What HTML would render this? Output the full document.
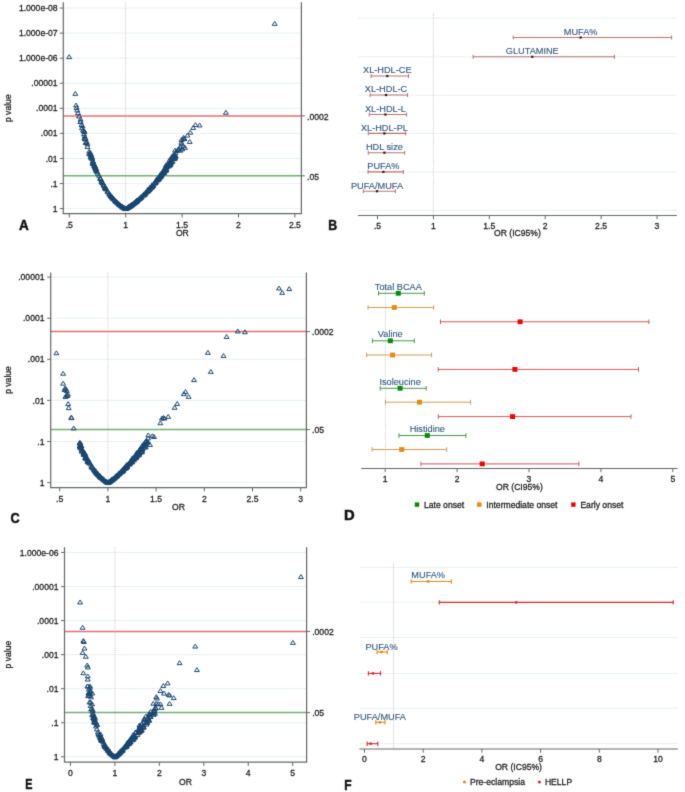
<!DOCTYPE html>
<html><head><meta charset="utf-8"><style>
html,body{margin:0;padding:0;background:#fff;width:685px;height:792px;overflow:hidden}
svg{display:block}
#w{width:685px;height:792px;will-change:transform}
</style></head><body>
<div id="w"><svg width="685" height="792" viewBox="0 0 685 792">
<defs><filter id="bl" filterUnits="userSpaceOnUse" x="0" y="0" width="685" height="792" color-interpolation-filters="sRGB"><feConvolveMatrix order="3" kernelMatrix="1 6 1 6 36 6 1 6 1" divisor="64" edgeMode="duplicate"/></filter></defs>
<g filter="url(#bl)"><rect width="685" height="792" fill="#fff"/>
<g font-family='"Liberation Sans", sans-serif'>
<line x1="63.30" y1="208.60" x2="301.40" y2="208.60" stroke="#e8eff0" stroke-width="1" />
<line x1="63.30" y1="183.53" x2="301.40" y2="183.53" stroke="#e8eff0" stroke-width="1" />
<line x1="63.30" y1="158.46" x2="301.40" y2="158.46" stroke="#e8eff0" stroke-width="1" />
<line x1="63.30" y1="133.39" x2="301.40" y2="133.39" stroke="#e8eff0" stroke-width="1" />
<line x1="63.30" y1="108.32" x2="301.40" y2="108.32" stroke="#e8eff0" stroke-width="1" />
<line x1="63.30" y1="83.25" x2="301.40" y2="83.25" stroke="#e8eff0" stroke-width="1" />
<line x1="63.30" y1="58.18" x2="301.40" y2="58.18" stroke="#e8eff0" stroke-width="1" />
<line x1="63.30" y1="33.11" x2="301.40" y2="33.11" stroke="#e8eff0" stroke-width="1" />
<line x1="63.30" y1="8.04" x2="301.40" y2="8.04" stroke="#e8eff0" stroke-width="1" />
<line x1="125.70" y1="2.20" x2="125.70" y2="213.70" stroke="#c6b6bc" stroke-width="0.9" stroke-dasharray="0.9,1.2"/>
<line x1="63.30" y1="115.90" x2="301.40" y2="115.90" stroke="#e07070" stroke-width="1.5" />
<line x1="63.30" y1="175.80" x2="301.40" y2="175.80" stroke="#72b072" stroke-width="1.5" />
<line x1="63.30" y1="2.20" x2="63.30" y2="213.70" stroke="#666666" stroke-width="1.2" />
<line x1="301.40" y1="2.20" x2="301.40" y2="213.70" stroke="#666666" stroke-width="1.2" />
<line x1="62.70" y1="213.70" x2="302.00" y2="213.70" stroke="#666666" stroke-width="1.2" />
<line x1="59.80" y1="208.60" x2="63.30" y2="208.60" stroke="#666666" stroke-width="1" />
<text x="57.60" y="211.70" font-size="8.6" text-anchor="end" fill="#1a1a1a" stroke="#1a1a1a" stroke-width="0.26" font-weight="normal" >1</text>
<line x1="59.80" y1="183.53" x2="63.30" y2="183.53" stroke="#666666" stroke-width="1" />
<text x="57.60" y="186.63" font-size="8.6" text-anchor="end" fill="#1a1a1a" stroke="#1a1a1a" stroke-width="0.26" font-weight="normal" >.1</text>
<line x1="59.80" y1="158.46" x2="63.30" y2="158.46" stroke="#666666" stroke-width="1" />
<text x="57.60" y="161.56" font-size="8.6" text-anchor="end" fill="#1a1a1a" stroke="#1a1a1a" stroke-width="0.26" font-weight="normal" >.01</text>
<line x1="59.80" y1="133.39" x2="63.30" y2="133.39" stroke="#666666" stroke-width="1" />
<text x="57.60" y="136.49" font-size="8.6" text-anchor="end" fill="#1a1a1a" stroke="#1a1a1a" stroke-width="0.26" font-weight="normal" >.001</text>
<line x1="59.80" y1="108.32" x2="63.30" y2="108.32" stroke="#666666" stroke-width="1" />
<text x="57.60" y="111.42" font-size="8.6" text-anchor="end" fill="#1a1a1a" stroke="#1a1a1a" stroke-width="0.26" font-weight="normal" >.0001</text>
<line x1="59.80" y1="83.25" x2="63.30" y2="83.25" stroke="#666666" stroke-width="1" />
<text x="57.60" y="86.35" font-size="8.6" text-anchor="end" fill="#1a1a1a" stroke="#1a1a1a" stroke-width="0.26" font-weight="normal" >.00001</text>
<line x1="59.80" y1="58.18" x2="63.30" y2="58.18" stroke="#666666" stroke-width="1" />
<text x="57.60" y="61.28" font-size="8.6" text-anchor="end" fill="#1a1a1a" stroke="#1a1a1a" stroke-width="0.26" font-weight="normal" >1.000e-06</text>
<line x1="59.80" y1="33.11" x2="63.30" y2="33.11" stroke="#666666" stroke-width="1" />
<text x="57.60" y="36.21" font-size="8.6" text-anchor="end" fill="#1a1a1a" stroke="#1a1a1a" stroke-width="0.26" font-weight="normal" >1.000e-07</text>
<line x1="59.80" y1="8.04" x2="63.30" y2="8.04" stroke="#666666" stroke-width="1" />
<text x="57.60" y="11.14" font-size="8.6" text-anchor="end" fill="#1a1a1a" stroke="#1a1a1a" stroke-width="0.26" font-weight="normal" >1.000e-08</text>
<line x1="69.30" y1="213.70" x2="69.30" y2="217.50" stroke="#666666" stroke-width="1" />
<text x="69.30" y="227.70" font-size="8.6" text-anchor="middle" fill="#1a1a1a" stroke="#1a1a1a" stroke-width="0.26" font-weight="normal" >.5</text>
<line x1="125.70" y1="213.70" x2="125.70" y2="217.50" stroke="#666666" stroke-width="1" />
<text x="125.70" y="227.70" font-size="8.6" text-anchor="middle" fill="#1a1a1a" stroke="#1a1a1a" stroke-width="0.26" font-weight="normal" >1</text>
<line x1="182.10" y1="213.70" x2="182.10" y2="217.50" stroke="#666666" stroke-width="1" />
<text x="182.10" y="227.70" font-size="8.6" text-anchor="middle" fill="#1a1a1a" stroke="#1a1a1a" stroke-width="0.26" font-weight="normal" >1.5</text>
<line x1="238.50" y1="213.70" x2="238.50" y2="217.50" stroke="#666666" stroke-width="1" />
<text x="238.50" y="227.70" font-size="8.6" text-anchor="middle" fill="#1a1a1a" stroke="#1a1a1a" stroke-width="0.26" font-weight="normal" >2</text>
<line x1="294.90" y1="213.70" x2="294.90" y2="217.50" stroke="#666666" stroke-width="1" />
<text x="294.90" y="227.70" font-size="8.6" text-anchor="middle" fill="#1a1a1a" stroke="#1a1a1a" stroke-width="0.26" font-weight="normal" >2.5</text>
<line x1="301.40" y1="115.90" x2="304.90" y2="115.90" stroke="#666666" stroke-width="1" />
<line x1="301.40" y1="175.80" x2="304.90" y2="175.80" stroke="#666666" stroke-width="1" />
<text x="307.00" y="119.70" font-size="8.6" text-anchor="start" fill="#1a1a1a" stroke="#1a1a1a" stroke-width="0.26" font-weight="normal" >.0002</text>
<text x="307.00" y="179.50" font-size="8.6" text-anchor="start" fill="#1a1a1a" stroke="#1a1a1a" stroke-width="0.26" font-weight="normal" >.05</text>
<text x="182.35" y="236.20" font-size="8.6" text-anchor="middle" fill="#1a1a1a" stroke="#1a1a1a" stroke-width="0.26" font-weight="normal" >OR</text>
<text x="11.10" y="108.20" font-size="8.6" text-anchor="middle" fill="#1a1a1a" stroke="#1a1a1a" stroke-width="0.26" font-weight="normal" transform="rotate(-90 11.1 108.2)">p value</text>
<line x1="50.70" y1="482.60" x2="306.40" y2="482.60" stroke="#e8eff0" stroke-width="1" />
<line x1="50.70" y1="441.50" x2="306.40" y2="441.50" stroke="#e8eff0" stroke-width="1" />
<line x1="50.70" y1="400.40" x2="306.40" y2="400.40" stroke="#e8eff0" stroke-width="1" />
<line x1="50.70" y1="359.30" x2="306.40" y2="359.30" stroke="#e8eff0" stroke-width="1" />
<line x1="50.70" y1="318.20" x2="306.40" y2="318.20" stroke="#e8eff0" stroke-width="1" />
<line x1="50.70" y1="277.10" x2="306.40" y2="277.10" stroke="#e8eff0" stroke-width="1" />
<line x1="107.90" y1="272.60" x2="107.90" y2="487.60" stroke="#c6b6bc" stroke-width="0.9" stroke-dasharray="0.9,1.2"/>
<line x1="50.70" y1="331.60" x2="306.40" y2="331.60" stroke="#e07070" stroke-width="1.5" />
<line x1="50.70" y1="429.50" x2="306.40" y2="429.50" stroke="#72b072" stroke-width="1.5" />
<line x1="50.70" y1="272.60" x2="50.70" y2="487.60" stroke="#666666" stroke-width="1.2" />
<line x1="306.40" y1="272.60" x2="306.40" y2="487.60" stroke="#666666" stroke-width="1.2" />
<line x1="50.10" y1="487.60" x2="307.00" y2="487.60" stroke="#666666" stroke-width="1.2" />
<line x1="47.20" y1="482.60" x2="50.70" y2="482.60" stroke="#666666" stroke-width="1" />
<text x="44.50" y="485.70" font-size="8.6" text-anchor="end" fill="#1a1a1a" stroke="#1a1a1a" stroke-width="0.26" font-weight="normal" >1</text>
<line x1="47.20" y1="441.50" x2="50.70" y2="441.50" stroke="#666666" stroke-width="1" />
<text x="44.50" y="444.60" font-size="8.6" text-anchor="end" fill="#1a1a1a" stroke="#1a1a1a" stroke-width="0.26" font-weight="normal" >.1</text>
<line x1="47.20" y1="400.40" x2="50.70" y2="400.40" stroke="#666666" stroke-width="1" />
<text x="44.50" y="403.50" font-size="8.6" text-anchor="end" fill="#1a1a1a" stroke="#1a1a1a" stroke-width="0.26" font-weight="normal" >.01</text>
<line x1="47.20" y1="359.30" x2="50.70" y2="359.30" stroke="#666666" stroke-width="1" />
<text x="44.50" y="362.40" font-size="8.6" text-anchor="end" fill="#1a1a1a" stroke="#1a1a1a" stroke-width="0.26" font-weight="normal" >.001</text>
<line x1="47.20" y1="318.20" x2="50.70" y2="318.20" stroke="#666666" stroke-width="1" />
<text x="44.50" y="321.30" font-size="8.6" text-anchor="end" fill="#1a1a1a" stroke="#1a1a1a" stroke-width="0.26" font-weight="normal" >.0001</text>
<line x1="47.20" y1="277.10" x2="50.70" y2="277.10" stroke="#666666" stroke-width="1" />
<text x="44.50" y="280.20" font-size="8.6" text-anchor="end" fill="#1a1a1a" stroke="#1a1a1a" stroke-width="0.26" font-weight="normal" >.00001</text>
<line x1="59.70" y1="487.60" x2="59.70" y2="491.40" stroke="#666666" stroke-width="1" />
<text x="59.70" y="501.60" font-size="8.6" text-anchor="middle" fill="#1a1a1a" stroke="#1a1a1a" stroke-width="0.26" font-weight="normal" >.5</text>
<line x1="107.90" y1="487.60" x2="107.90" y2="491.40" stroke="#666666" stroke-width="1" />
<text x="107.90" y="501.60" font-size="8.6" text-anchor="middle" fill="#1a1a1a" stroke="#1a1a1a" stroke-width="0.26" font-weight="normal" >1</text>
<line x1="156.10" y1="487.60" x2="156.10" y2="491.40" stroke="#666666" stroke-width="1" />
<text x="156.10" y="501.60" font-size="8.6" text-anchor="middle" fill="#1a1a1a" stroke="#1a1a1a" stroke-width="0.26" font-weight="normal" >1.5</text>
<line x1="204.30" y1="487.60" x2="204.30" y2="491.40" stroke="#666666" stroke-width="1" />
<text x="204.30" y="501.60" font-size="8.6" text-anchor="middle" fill="#1a1a1a" stroke="#1a1a1a" stroke-width="0.26" font-weight="normal" >2</text>
<line x1="252.50" y1="487.60" x2="252.50" y2="491.40" stroke="#666666" stroke-width="1" />
<text x="252.50" y="501.60" font-size="8.6" text-anchor="middle" fill="#1a1a1a" stroke="#1a1a1a" stroke-width="0.26" font-weight="normal" >2.5</text>
<line x1="300.70" y1="487.60" x2="300.70" y2="491.40" stroke="#666666" stroke-width="1" />
<text x="300.70" y="501.60" font-size="8.6" text-anchor="middle" fill="#1a1a1a" stroke="#1a1a1a" stroke-width="0.26" font-weight="normal" >3</text>
<line x1="306.40" y1="331.60" x2="309.90" y2="331.60" stroke="#666666" stroke-width="1" />
<line x1="306.40" y1="429.50" x2="309.90" y2="429.50" stroke="#666666" stroke-width="1" />
<text x="312.00" y="335.40" font-size="8.6" text-anchor="start" fill="#1a1a1a" stroke="#1a1a1a" stroke-width="0.26" font-weight="normal" >.0002</text>
<text x="312.00" y="433.20" font-size="8.6" text-anchor="start" fill="#1a1a1a" stroke="#1a1a1a" stroke-width="0.26" font-weight="normal" >.05</text>
<text x="178.55" y="510.40" font-size="8.6" text-anchor="middle" fill="#1a1a1a" stroke="#1a1a1a" stroke-width="0.26" font-weight="normal" >OR</text>
<text x="11.10" y="380.00" font-size="8.6" text-anchor="middle" fill="#1a1a1a" stroke="#1a1a1a" stroke-width="0.26" font-weight="normal" transform="rotate(-90 11.1 380)">p value</text>
<line x1="64.50" y1="756.80" x2="306.60" y2="756.80" stroke="#e8eff0" stroke-width="1" />
<line x1="64.50" y1="722.75" x2="306.60" y2="722.75" stroke="#e8eff0" stroke-width="1" />
<line x1="64.50" y1="688.70" x2="306.60" y2="688.70" stroke="#e8eff0" stroke-width="1" />
<line x1="64.50" y1="654.65" x2="306.60" y2="654.65" stroke="#e8eff0" stroke-width="1" />
<line x1="64.50" y1="620.60" x2="306.60" y2="620.60" stroke="#e8eff0" stroke-width="1" />
<line x1="64.50" y1="586.55" x2="306.60" y2="586.55" stroke="#e8eff0" stroke-width="1" />
<line x1="64.50" y1="552.50" x2="306.60" y2="552.50" stroke="#e8eff0" stroke-width="1" />
<line x1="114.90" y1="547.20" x2="114.90" y2="762.10" stroke="#c6b6bc" stroke-width="0.9" stroke-dasharray="0.9,1.2"/>
<line x1="64.50" y1="631.40" x2="306.60" y2="631.40" stroke="#e07070" stroke-width="1.5" />
<line x1="64.50" y1="712.60" x2="306.60" y2="712.60" stroke="#72b072" stroke-width="1.5" />
<line x1="64.50" y1="547.20" x2="64.50" y2="762.10" stroke="#666666" stroke-width="1.2" />
<line x1="306.60" y1="547.20" x2="306.60" y2="762.10" stroke="#666666" stroke-width="1.2" />
<line x1="63.90" y1="762.10" x2="307.20" y2="762.10" stroke="#666666" stroke-width="1.2" />
<line x1="61.00" y1="756.80" x2="64.50" y2="756.80" stroke="#666666" stroke-width="1" />
<text x="58.50" y="759.90" font-size="8.6" text-anchor="end" fill="#1a1a1a" stroke="#1a1a1a" stroke-width="0.26" font-weight="normal" >1</text>
<line x1="61.00" y1="722.75" x2="64.50" y2="722.75" stroke="#666666" stroke-width="1" />
<text x="58.50" y="725.85" font-size="8.6" text-anchor="end" fill="#1a1a1a" stroke="#1a1a1a" stroke-width="0.26" font-weight="normal" >.1</text>
<line x1="61.00" y1="688.70" x2="64.50" y2="688.70" stroke="#666666" stroke-width="1" />
<text x="58.50" y="691.80" font-size="8.6" text-anchor="end" fill="#1a1a1a" stroke="#1a1a1a" stroke-width="0.26" font-weight="normal" >.01</text>
<line x1="61.00" y1="654.65" x2="64.50" y2="654.65" stroke="#666666" stroke-width="1" />
<text x="58.50" y="657.75" font-size="8.6" text-anchor="end" fill="#1a1a1a" stroke="#1a1a1a" stroke-width="0.26" font-weight="normal" >.001</text>
<line x1="61.00" y1="620.60" x2="64.50" y2="620.60" stroke="#666666" stroke-width="1" />
<text x="58.50" y="623.70" font-size="8.6" text-anchor="end" fill="#1a1a1a" stroke="#1a1a1a" stroke-width="0.26" font-weight="normal" >.0001</text>
<line x1="61.00" y1="586.55" x2="64.50" y2="586.55" stroke="#666666" stroke-width="1" />
<text x="58.50" y="589.65" font-size="8.6" text-anchor="end" fill="#1a1a1a" stroke="#1a1a1a" stroke-width="0.26" font-weight="normal" >.00001</text>
<line x1="61.00" y1="552.50" x2="64.50" y2="552.50" stroke="#666666" stroke-width="1" />
<text x="58.50" y="555.60" font-size="8.6" text-anchor="end" fill="#1a1a1a" stroke="#1a1a1a" stroke-width="0.26" font-weight="normal" >1.000e-06</text>
<line x1="70.45" y1="762.10" x2="70.45" y2="765.90" stroke="#666666" stroke-width="1" />
<text x="70.45" y="776.30" font-size="8.6" text-anchor="middle" fill="#1a1a1a" stroke="#1a1a1a" stroke-width="0.26" font-weight="normal" >0</text>
<line x1="114.90" y1="762.10" x2="114.90" y2="765.90" stroke="#666666" stroke-width="1" />
<text x="114.90" y="776.30" font-size="8.6" text-anchor="middle" fill="#1a1a1a" stroke="#1a1a1a" stroke-width="0.26" font-weight="normal" >1</text>
<line x1="159.35" y1="762.10" x2="159.35" y2="765.90" stroke="#666666" stroke-width="1" />
<text x="159.35" y="776.30" font-size="8.6" text-anchor="middle" fill="#1a1a1a" stroke="#1a1a1a" stroke-width="0.26" font-weight="normal" >2</text>
<line x1="203.80" y1="762.10" x2="203.80" y2="765.90" stroke="#666666" stroke-width="1" />
<text x="203.80" y="776.30" font-size="8.6" text-anchor="middle" fill="#1a1a1a" stroke="#1a1a1a" stroke-width="0.26" font-weight="normal" >3</text>
<line x1="248.25" y1="762.10" x2="248.25" y2="765.90" stroke="#666666" stroke-width="1" />
<text x="248.25" y="776.30" font-size="8.6" text-anchor="middle" fill="#1a1a1a" stroke="#1a1a1a" stroke-width="0.26" font-weight="normal" >4</text>
<line x1="292.70" y1="762.10" x2="292.70" y2="765.90" stroke="#666666" stroke-width="1" />
<text x="292.70" y="776.30" font-size="8.6" text-anchor="middle" fill="#1a1a1a" stroke="#1a1a1a" stroke-width="0.26" font-weight="normal" >5</text>
<line x1="306.60" y1="631.40" x2="310.10" y2="631.40" stroke="#666666" stroke-width="1" />
<line x1="306.60" y1="712.60" x2="310.10" y2="712.60" stroke="#666666" stroke-width="1" />
<text x="312.20" y="635.20" font-size="8.6" text-anchor="start" fill="#1a1a1a" stroke="#1a1a1a" stroke-width="0.26" font-weight="normal" >.0002</text>
<text x="312.20" y="716.30" font-size="8.6" text-anchor="start" fill="#1a1a1a" stroke="#1a1a1a" stroke-width="0.26" font-weight="normal" >.05</text>
<text x="185.55" y="784.80" font-size="8.6" text-anchor="middle" fill="#1a1a1a" stroke="#1a1a1a" stroke-width="0.26" font-weight="normal" >OR</text>
<text x="11.10" y="654.60" font-size="8.6" text-anchor="middle" fill="#1a1a1a" stroke="#1a1a1a" stroke-width="0.26" font-weight="normal" transform="rotate(-90 11.1 654.6)">p value</text>
<defs><path id="t" d="M-2.45,1.95 L2.45,1.95 L0,-1.95 Z" fill="none" stroke="#1a476f" stroke-width="1.0" stroke-linejoin="miter"/></defs>
<use href="#t" x="69.2" y="56.7"/>
<use href="#t" x="75.3" y="93.4"/>
<use href="#t" x="76.1" y="105.0"/>
<use href="#t" x="76.6" y="107.5"/>
<use href="#t" x="77.2" y="110.0"/>
<use href="#t" x="78.1" y="112.7"/>
<use href="#t" x="79.0" y="116.0"/>
<use href="#t" x="80.4" y="121.5"/>
<use href="#t" x="81.5" y="124.5"/>
<use href="#t" x="83.0" y="130.0"/>
<use href="#t" x="84.0" y="133.7"/>
<use href="#t" x="84.6" y="136.0"/>
<use href="#t" x="86.3" y="142.5"/>
<use href="#t" x="87.5" y="146.5"/>
<use href="#t" x="89.2" y="151.2"/>
<use href="#t" x="90.2" y="154.0"/>
<use href="#t" x="91.0" y="157.1"/>
<use href="#t" x="195.5" y="124.6"/>
<use href="#t" x="199.6" y="125.0"/>
<use href="#t" x="193.2" y="127.5"/>
<use href="#t" x="190.3" y="132.2"/>
<use href="#t" x="187.4" y="135.1"/>
<use href="#t" x="184.5" y="138.6"/>
<use href="#t" x="189.7" y="141.5"/>
<use href="#t" x="185.0" y="147.4"/>
<use href="#t" x="180.4" y="146.8"/>
<use href="#t" x="178.0" y="149.7"/>
<use href="#t" x="174.5" y="154.4"/>
<use href="#t" x="172.8" y="157.9"/>
<use href="#t" x="225.9" y="112.3"/>
<use href="#t" x="274.7" y="23.4"/>
<use href="#t" x="112.9" y="197.9"/>
<use href="#t" x="101.5" y="180.3"/>
<use href="#t" x="105.4" y="187.6"/>
<use href="#t" x="123.3" y="207.1"/>
<use href="#t" x="124.1" y="207.7"/>
<use href="#t" x="122.8" y="206.8"/>
<use href="#t" x="109.3" y="193.7"/>
<use href="#t" x="120.6" y="205.3"/>
<use href="#t" x="102.3" y="182.8"/>
<use href="#t" x="104.0" y="185.2"/>
<use href="#t" x="91.4" y="155.1"/>
<use href="#t" x="94.9" y="165.6"/>
<use href="#t" x="119.8" y="204.6"/>
<use href="#t" x="113.5" y="198.8"/>
<use href="#t" x="118.4" y="203.5"/>
<use href="#t" x="101.9" y="181.4"/>
<use href="#t" x="105.0" y="186.6"/>
<use href="#t" x="123.2" y="207.1"/>
<use href="#t" x="100.5" y="178.8"/>
<use href="#t" x="113.3" y="198.5"/>
<use href="#t" x="108.2" y="192.0"/>
<use href="#t" x="96.9" y="171.3"/>
<use href="#t" x="115.9" y="201.3"/>
<use href="#t" x="105.7" y="188.6"/>
<use href="#t" x="99.0" y="175.3"/>
<use href="#t" x="91.3" y="154.9"/>
<use href="#t" x="109.5" y="194.0"/>
<use href="#t" x="119.5" y="204.4"/>
<use href="#t" x="124.1" y="207.6"/>
<use href="#t" x="97.8" y="173.2"/>
<use href="#t" x="94.4" y="164.3"/>
<use href="#t" x="100.0" y="178.0"/>
<use href="#t" x="103.9" y="185.1"/>
<use href="#t" x="95.5" y="168.3"/>
<use href="#t" x="107.5" y="191.1"/>
<use href="#t" x="123.2" y="207.1"/>
<use href="#t" x="101.6" y="181.6"/>
<use href="#t" x="96.0" y="168.5"/>
<use href="#t" x="110.7" y="195.4"/>
<use href="#t" x="124.8" y="208.1"/>
<use href="#t" x="118.9" y="203.8"/>
<use href="#t" x="123.3" y="207.1"/>
<use href="#t" x="120.4" y="205.1"/>
<use href="#t" x="110.5" y="195.3"/>
<use href="#t" x="122.4" y="206.5"/>
<use href="#t" x="104.9" y="187.3"/>
<use href="#t" x="96.1" y="169.7"/>
<use href="#t" x="114.6" y="199.9"/>
<use href="#t" x="111.6" y="196.7"/>
<use href="#t" x="92.0" y="157.0"/>
<use href="#t" x="118.6" y="203.6"/>
<use href="#t" x="116.3" y="201.6"/>
<use href="#t" x="103.6" y="184.4"/>
<use href="#t" x="125.5" y="208.5"/>
<use href="#t" x="111.3" y="196.1"/>
<use href="#t" x="92.1" y="158.7"/>
<use href="#t" x="106.1" y="188.9"/>
<use href="#t" x="100.7" y="178.6"/>
<use href="#t" x="93.7" y="163.4"/>
<use href="#t" x="94.4" y="165.4"/>
<use href="#t" x="110.4" y="195.0"/>
<use href="#t" x="121.4" y="205.9"/>
<use href="#t" x="123.1" y="207.0"/>
<use href="#t" x="117.3" y="202.4"/>
<use href="#t" x="112.3" y="197.2"/>
<use href="#t" x="125.7" y="208.6"/>
<use href="#t" x="121.5" y="205.9"/>
<use href="#t" x="124.6" y="208.0"/>
<use href="#t" x="102.7" y="182.7"/>
<use href="#t" x="115.6" y="200.9"/>
<use href="#t" x="111.4" y="196.1"/>
<use href="#t" x="95.2" y="167.7"/>
<use href="#t" x="107.8" y="191.4"/>
<use href="#t" x="122.2" y="206.4"/>
<use href="#t" x="112.2" y="197.2"/>
<use href="#t" x="95.8" y="167.7"/>
<use href="#t" x="124.7" y="208.1"/>
<use href="#t" x="105.6" y="187.8"/>
<use href="#t" x="105.1" y="186.8"/>
<use href="#t" x="105.6" y="188.5"/>
<use href="#t" x="94.8" y="166.1"/>
<use href="#t" x="115.3" y="200.6"/>
<use href="#t" x="118.9" y="204.0"/>
<use href="#t" x="105.5" y="188.1"/>
<use href="#t" x="112.7" y="197.7"/>
<use href="#t" x="96.4" y="170.5"/>
<use href="#t" x="95.1" y="167.1"/>
<use href="#t" x="96.2" y="169.6"/>
<use href="#t" x="116.6" y="201.9"/>
<use href="#t" x="111.8" y="196.5"/>
<use href="#t" x="126.9" y="207.9"/>
<use href="#t" x="137.1" y="200.7"/>
<use href="#t" x="173.8" y="157.0"/>
<use href="#t" x="172.7" y="161.2"/>
<use href="#t" x="173.7" y="156.7"/>
<use href="#t" x="135.3" y="201.9"/>
<use href="#t" x="134.3" y="202.7"/>
<use href="#t" x="155.1" y="183.1"/>
<use href="#t" x="167.0" y="166.8"/>
<use href="#t" x="156.7" y="181.1"/>
<use href="#t" x="129.3" y="206.4"/>
<use href="#t" x="171.1" y="162.5"/>
<use href="#t" x="162.0" y="173.6"/>
<use href="#t" x="133.4" y="203.6"/>
<use href="#t" x="140.5" y="197.8"/>
<use href="#t" x="174.7" y="155.4"/>
<use href="#t" x="143.8" y="195.0"/>
<use href="#t" x="160.6" y="174.4"/>
<use href="#t" x="131.2" y="205.1"/>
<use href="#t" x="170.8" y="163.0"/>
<use href="#t" x="132.0" y="204.6"/>
<use href="#t" x="175.3" y="156.0"/>
<use href="#t" x="141.4" y="196.8"/>
<use href="#t" x="131.3" y="204.9"/>
<use href="#t" x="174.7" y="156.8"/>
<use href="#t" x="150.1" y="188.7"/>
<use href="#t" x="145.4" y="193.3"/>
<use href="#t" x="166.2" y="166.9"/>
<use href="#t" x="136.8" y="200.7"/>
<use href="#t" x="136.2" y="201.3"/>
<use href="#t" x="137.1" y="200.5"/>
<use href="#t" x="131.3" y="205.1"/>
<use href="#t" x="141.5" y="196.6"/>
<use href="#t" x="153.0" y="185.5"/>
<use href="#t" x="144.8" y="194.0"/>
<use href="#t" x="148.8" y="189.4"/>
<use href="#t" x="149.9" y="187.3"/>
<use href="#t" x="145.7" y="192.1"/>
<use href="#t" x="125.9" y="208.5"/>
<use href="#t" x="133.2" y="203.7"/>
<use href="#t" x="160.6" y="175.6"/>
<use href="#t" x="140.2" y="197.9"/>
<use href="#t" x="151.6" y="186.9"/>
<use href="#t" x="130.2" y="205.8"/>
<use href="#t" x="136.6" y="200.9"/>
<use href="#t" x="163.2" y="172.1"/>
<use href="#t" x="151.9" y="186.4"/>
<use href="#t" x="171.2" y="160.8"/>
<use href="#t" x="154.5" y="182.9"/>
<use href="#t" x="149.3" y="189.1"/>
<use href="#t" x="146.3" y="192.0"/>
<use href="#t" x="147.6" y="191.3"/>
<use href="#t" x="159.2" y="178.3"/>
<use href="#t" x="173.0" y="157.3"/>
<use href="#t" x="151.8" y="186.9"/>
<use href="#t" x="167.0" y="165.4"/>
<use href="#t" x="130.9" y="205.3"/>
<use href="#t" x="128.8" y="206.7"/>
<use href="#t" x="128.8" y="206.7"/>
<use href="#t" x="163.8" y="172.5"/>
<use href="#t" x="132.4" y="204.4"/>
<use href="#t" x="157.1" y="178.9"/>
<use href="#t" x="169.5" y="165.4"/>
<use href="#t" x="135.3" y="202.3"/>
<use href="#t" x="143.7" y="194.6"/>
<use href="#t" x="175.8" y="156.0"/>
<use href="#t" x="132.7" y="204.0"/>
<use href="#t" x="149.5" y="188.3"/>
<use href="#t" x="134.2" y="202.8"/>
<use href="#t" x="160.4" y="174.1"/>
<use href="#t" x="151.5" y="186.3"/>
<use href="#t" x="126.5" y="208.2"/>
<use href="#t" x="155.1" y="182.2"/>
<use href="#t" x="128.4" y="207.0"/>
<use href="#t" x="164.1" y="172.5"/>
<use href="#t" x="130.2" y="205.8"/>
<use href="#t" x="127.4" y="207.6"/>
<use href="#t" x="137.6" y="199.9"/>
<use href="#t" x="144.9" y="193.9"/>
<use href="#t" x="165.8" y="167.6"/>
<use href="#t" x="132.1" y="204.6"/>
<use href="#t" x="152.3" y="185.8"/>
<use href="#t" x="129.5" y="206.2"/>
<use href="#t" x="158.6" y="177.8"/>
<use href="#t" x="128.8" y="206.8"/>
<use href="#t" x="155.7" y="182.2"/>
<use href="#t" x="129.3" y="206.5"/>
<use href="#t" x="128.5" y="206.9"/>
<use href="#t" x="146.4" y="191.6"/>
<use href="#t" x="151.4" y="187.2"/>
<use href="#t" x="137.5" y="200.0"/>
<use href="#t" x="150.1" y="187.5"/>
<use href="#t" x="130.4" y="205.6"/>
<use href="#t" x="127.8" y="207.3"/>
<use href="#t" x="139.6" y="198.3"/>
<use href="#t" x="162.5" y="172.3"/>
<use href="#t" x="148.7" y="188.9"/>
<use href="#t" x="141.2" y="196.5"/>
<use href="#t" x="136.7" y="200.6"/>
<use href="#t" x="161.0" y="175.0"/>
<use href="#t" x="133.9" y="203.1"/>
<use href="#t" x="172.5" y="157.2"/>
<use href="#t" x="165.8" y="168.3"/>
<use href="#t" x="148.5" y="190.2"/>
<use href="#t" x="143.4" y="194.9"/>
<use href="#t" x="158.5" y="179.3"/>
<use href="#t" x="141.0" y="197.4"/>
<use href="#t" x="159.6" y="177.1"/>
<use href="#t" x="144.0" y="194.1"/>
<use href="#t" x="128.0" y="207.2"/>
<use href="#t" x="128.7" y="206.8"/>
<use href="#t" x="136.9" y="200.5"/>
<use href="#t" x="129.3" y="206.5"/>
<use href="#t" x="168.8" y="165.2"/>
<use href="#t" x="138.2" y="199.5"/>
<use href="#t" x="138.7" y="199.2"/>
<use href="#t" x="132.5" y="204.2"/>
<use href="#t" x="137.3" y="200.7"/>
<use href="#t" x="174.8" y="156.1"/>
<use href="#t" x="136.4" y="201.4"/>
<use href="#t" x="139.4" y="198.4"/>
<use href="#t" x="125.7" y="208.6"/>
<use href="#t" x="147.5" y="190.8"/>
<use href="#t" x="134.4" y="202.7"/>
<use href="#t" x="125.9" y="208.5"/>
<use href="#t" x="129.5" y="206.2"/>
<use href="#t" x="127.5" y="207.5"/>
<use href="#t" x="139.2" y="198.6"/>
<use href="#t" x="153.1" y="184.6"/>
<use href="#t" x="162.0" y="174.1"/>
<use href="#t" x="160.1" y="177.2"/>
<use href="#t" x="143.3" y="194.8"/>
<use href="#t" x="175.5" y="152.9"/>
<use href="#t" x="160.5" y="175.9"/>
<use href="#t" x="127.6" y="207.5"/>
<use href="#t" x="170.0" y="163.3"/>
<use href="#t" x="161.1" y="175.8"/>
<use href="#t" x="131.7" y="204.8"/>
<use href="#t" x="148.9" y="189.7"/>
<use href="#t" x="165.0" y="170.8"/>
<use href="#t" x="153.0" y="185.4"/>
<use href="#t" x="158.3" y="178.9"/>
<use href="#t" x="135.8" y="201.4"/>
<use href="#t" x="131.4" y="204.9"/>
<use href="#t" x="130.2" y="205.9"/>
<use href="#t" x="151.7" y="186.4"/>
<use href="#t" x="155.3" y="182.4"/>
<use href="#t" x="148.2" y="189.2"/>
<use href="#t" x="164.6" y="171.0"/>
<use href="#t" x="148.9" y="189.3"/>
<use href="#t" x="157.0" y="178.7"/>
<use href="#t" x="161.2" y="173.8"/>
<use href="#t" x="128.9" y="206.7"/>
<use href="#t" x="160.8" y="174.2"/>
<use href="#t" x="161.4" y="175.9"/>
<use href="#t" x="148.4" y="189.6"/>
<use href="#t" x="147.7" y="190.8"/>
<use href="#t" x="162.9" y="172.8"/>
<use href="#t" x="156.1" y="179.9"/>
<use href="#t" x="132.1" y="204.4"/>
<use href="#t" x="161.6" y="173.5"/>
<use href="#t" x="152.2" y="184.6"/>
<use href="#t" x="128.3" y="207.0"/>
<use href="#t" x="157.7" y="179.6"/>
<use href="#t" x="157.9" y="178.2"/>
<use href="#t" x="149.6" y="188.5"/>
<use href="#t" x="147.0" y="190.6"/>
<use href="#t" x="170.1" y="161.2"/>
<use href="#t" x="175.1" y="157.6"/>
<use href="#t" x="126.4" y="208.2"/>
<use href="#t" x="165.9" y="170.2"/>
<use href="#t" x="146.2" y="191.8"/>
<use href="#t" x="134.8" y="202.6"/>
<use href="#t" x="134.9" y="202.4"/>
<use href="#t" x="131.8" y="204.7"/>
<use href="#t" x="173.6" y="155.7"/>
<use href="#t" x="165.9" y="168.5"/>
<use href="#t" x="169.7" y="164.0"/>
<use href="#t" x="135.8" y="201.8"/>
<use href="#t" x="148.0" y="189.4"/>
<use href="#t" x="80.6" y="119.0"/>
<use href="#t" x="86.7" y="141.7"/>
<use href="#t" x="82.5" y="125.7"/>
<use href="#t" x="84.9" y="138.9"/>
<use href="#t" x="80.6" y="121.2"/>
<use href="#t" x="91.9" y="157.7"/>
<use href="#t" x="93.1" y="163.7"/>
<use href="#t" x="92.8" y="160.9"/>
<use href="#t" x="85.6" y="138.5"/>
<use href="#t" x="94.1" y="165.7"/>
<use href="#t" x="85.5" y="138.2"/>
<use href="#t" x="84.3" y="130.8"/>
<use href="#t" x="82.0" y="127.7"/>
<use href="#t" x="84.4" y="138.0"/>
<use href="#t" x="84.0" y="131.1"/>
<use href="#t" x="87.5" y="143.9"/>
<use href="#t" x="85.6" y="142.4"/>
<use href="#t" x="92.5" y="162.6"/>
<use href="#t" x="89.1" y="153.4"/>
<use href="#t" x="93.3" y="163.5"/>
<use href="#t" x="90.3" y="152.4"/>
<use href="#t" x="90.5" y="155.1"/>
<use href="#t" x="90.8" y="156.9"/>
<use href="#t" x="84.5" y="131.4"/>
<use href="#t" x="93.1" y="161.1"/>
<use href="#t" x="172.4" y="157.4"/>
<use href="#t" x="168.5" y="166.0"/>
<use href="#t" x="183.8" y="138.6"/>
<use href="#t" x="176.6" y="150.7"/>
<use href="#t" x="174.4" y="155.0"/>
<use href="#t" x="165.6" y="166.2"/>
<use href="#t" x="166.5" y="169.7"/>
<use href="#t" x="173.0" y="155.5"/>
<use href="#t" x="182.2" y="148.9"/>
<use href="#t" x="171.9" y="156.4"/>
<use href="#t" x="166.1" y="164.8"/>
<use href="#t" x="169.5" y="159.8"/>
<use href="#t" x="167.2" y="164.5"/>
<use href="#t" x="174.6" y="158.6"/>
<use href="#t" x="178.7" y="148.5"/>
<use href="#t" x="171.1" y="160.8"/>
<use href="#t" x="170.3" y="160.6"/>
<use href="#t" x="163.2" y="170.3"/>
<use href="#t" x="183.6" y="137.3"/>
<use href="#t" x="173.2" y="158.7"/>
<use href="#t" x="181.3" y="142.3"/>
<use href="#t" x="167.9" y="163.4"/>
<use href="#t" x="170.8" y="160.6"/>
<use href="#t" x="183.3" y="145.9"/>
<use href="#t" x="181.5" y="139.6"/>
<use href="#t" x="162.5" y="173.7"/>
<use href="#t" x="182.0" y="143.9"/>
<use href="#t" x="175.0" y="150.2"/>
<use href="#t" x="170.6" y="164.4"/>
<use href="#t" x="180.4" y="150.2"/>
<use href="#t" x="56.4" y="352.8"/>
<use href="#t" x="63.1" y="373.3"/>
<use href="#t" x="63.1" y="383.2"/>
<use href="#t" x="64.5" y="389.5"/>
<use href="#t" x="67.8" y="394.0"/>
<use href="#t" x="65.5" y="396.5"/>
<use href="#t" x="66.8" y="390.5"/>
<use href="#t" x="65.2" y="387.9"/>
<use href="#t" x="66.0" y="389.0"/>
<use href="#t" x="66.4" y="394.9"/>
<use href="#t" x="67.5" y="395.5"/>
<use href="#t" x="68.1" y="403.6"/>
<use href="#t" x="68.7" y="407.7"/>
<use href="#t" x="71.6" y="417.7"/>
<use href="#t" x="71.2" y="417.2"/>
<use href="#t" x="73.7" y="428.0"/>
<use href="#t" x="237.8" y="331.0"/>
<use href="#t" x="244.9" y="331.8"/>
<use href="#t" x="226.6" y="336.5"/>
<use href="#t" x="207.9" y="352.4"/>
<use href="#t" x="223.5" y="355.5"/>
<use href="#t" x="210.8" y="371.4"/>
<use href="#t" x="194.0" y="379.6"/>
<use href="#t" x="185.5" y="391.5"/>
<use href="#t" x="183.8" y="393.7"/>
<use href="#t" x="188.6" y="396.4"/>
<use href="#t" x="177.2" y="403.5"/>
<use href="#t" x="174.6" y="407.3"/>
<use href="#t" x="168.2" y="416.4"/>
<use href="#t" x="163.4" y="417.5"/>
<use href="#t" x="161.9" y="418.1"/>
<use href="#t" x="279.0" y="288.0"/>
<use href="#t" x="282.2" y="292.4"/>
<use href="#t" x="289.2" y="288.6"/>
<use href="#t" x="164.4" y="418.0"/>
<use href="#t" x="160.4" y="422.8"/>
<use href="#t" x="148.3" y="434.9"/>
<use href="#t" x="152.3" y="435.7"/>
<use href="#t" x="154.0" y="436.5"/>
<use href="#t" x="145.1" y="443.7"/>
<use href="#t" x="150.0" y="444.5"/>
<use href="#t" x="79.7" y="442.5"/>
<use href="#t" x="104.2" y="479.8"/>
<use href="#t" x="91.5" y="466.5"/>
<use href="#t" x="80.4" y="446.9"/>
<use href="#t" x="88.0" y="461.5"/>
<use href="#t" x="93.4" y="468.8"/>
<use href="#t" x="106.5" y="481.7"/>
<use href="#t" x="100.2" y="476.7"/>
<use href="#t" x="88.1" y="460.2"/>
<use href="#t" x="103.6" y="479.3"/>
<use href="#t" x="88.3" y="461.8"/>
<use href="#t" x="104.1" y="479.7"/>
<use href="#t" x="91.5" y="466.2"/>
<use href="#t" x="95.4" y="470.8"/>
<use href="#t" x="89.3" y="461.4"/>
<use href="#t" x="98.1" y="474.2"/>
<use href="#t" x="80.0" y="445.5"/>
<use href="#t" x="81.8" y="448.8"/>
<use href="#t" x="100.2" y="476.1"/>
<use href="#t" x="79.9" y="445.8"/>
<use href="#t" x="97.9" y="473.5"/>
<use href="#t" x="92.2" y="467.4"/>
<use href="#t" x="94.5" y="469.7"/>
<use href="#t" x="87.5" y="461.1"/>
<use href="#t" x="100.4" y="476.2"/>
<use href="#t" x="97.0" y="472.9"/>
<use href="#t" x="87.1" y="458.1"/>
<use href="#t" x="84.0" y="454.5"/>
<use href="#t" x="92.0" y="466.2"/>
<use href="#t" x="79.7" y="443.0"/>
<use href="#t" x="83.5" y="451.2"/>
<use href="#t" x="100.6" y="476.9"/>
<use href="#t" x="98.3" y="474.8"/>
<use href="#t" x="92.3" y="466.5"/>
<use href="#t" x="100.5" y="476.6"/>
<use href="#t" x="87.5" y="461.2"/>
<use href="#t" x="103.0" y="478.8"/>
<use href="#t" x="100.8" y="477.3"/>
<use href="#t" x="103.1" y="478.8"/>
<use href="#t" x="105.9" y="481.1"/>
<use href="#t" x="81.5" y="450.0"/>
<use href="#t" x="85.7" y="458.4"/>
<use href="#t" x="80.6" y="445.4"/>
<use href="#t" x="101.7" y="478.0"/>
<use href="#t" x="85.4" y="454.3"/>
<use href="#t" x="87.6" y="459.6"/>
<use href="#t" x="95.9" y="471.5"/>
<use href="#t" x="102.3" y="478.0"/>
<use href="#t" x="98.7" y="474.8"/>
<use href="#t" x="80.1" y="442.8"/>
<use href="#t" x="79.8" y="442.8"/>
<use href="#t" x="96.4" y="472.7"/>
<use href="#t" x="83.4" y="452.0"/>
<use href="#t" x="106.2" y="481.4"/>
<use href="#t" x="95.9" y="472.3"/>
<use href="#t" x="101.5" y="477.5"/>
<use href="#t" x="81.5" y="445.8"/>
<use href="#t" x="94.8" y="470.9"/>
<use href="#t" x="84.8" y="453.2"/>
<use href="#t" x="106.7" y="481.7"/>
<use href="#t" x="80.9" y="445.7"/>
<use href="#t" x="85.3" y="457.4"/>
<use href="#t" x="96.9" y="472.7"/>
<use href="#t" x="80.0" y="445.5"/>
<use href="#t" x="99.3" y="475.6"/>
<use href="#t" x="97.6" y="473.5"/>
<use href="#t" x="107.8" y="482.5"/>
<use href="#t" x="81.0" y="447.8"/>
<use href="#t" x="80.4" y="442.9"/>
<use href="#t" x="100.2" y="476.3"/>
<use href="#t" x="80.0" y="447.2"/>
<use href="#t" x="95.5" y="470.9"/>
<use href="#t" x="94.2" y="469.7"/>
<use href="#t" x="80.7" y="444.8"/>
<use href="#t" x="83.9" y="454.2"/>
<use href="#t" x="83.4" y="453.3"/>
<use href="#t" x="89.1" y="462.1"/>
<use href="#t" x="97.5" y="473.5"/>
<use href="#t" x="84.4" y="452.5"/>
<use href="#t" x="101.3" y="477.6"/>
<use href="#t" x="99.8" y="475.6"/>
<use href="#t" x="106.7" y="481.8"/>
<use href="#t" x="97.3" y="473.9"/>
<use href="#t" x="81.8" y="451.2"/>
<use href="#t" x="99.2" y="475.0"/>
<use href="#t" x="104.6" y="480.2"/>
<use href="#t" x="86.3" y="457.7"/>
<use href="#t" x="100.2" y="476.3"/>
<use href="#t" x="88.8" y="462.4"/>
<use href="#t" x="85.3" y="457.2"/>
<use href="#t" x="87.6" y="458.8"/>
<use href="#t" x="82.9" y="450.3"/>
<use href="#t" x="90.3" y="464.0"/>
<use href="#t" x="85.6" y="455.4"/>
<use href="#t" x="99.8" y="475.7"/>
<use href="#t" x="113.2" y="478.8"/>
<use href="#t" x="129.6" y="462.5"/>
<use href="#t" x="122.3" y="471.3"/>
<use href="#t" x="126.7" y="465.4"/>
<use href="#t" x="139.5" y="452.5"/>
<use href="#t" x="148.0" y="438.0"/>
<use href="#t" x="125.4" y="468.2"/>
<use href="#t" x="140.9" y="452.1"/>
<use href="#t" x="109.3" y="481.6"/>
<use href="#t" x="112.0" y="479.4"/>
<use href="#t" x="147.1" y="442.8"/>
<use href="#t" x="145.1" y="443.9"/>
<use href="#t" x="142.1" y="448.2"/>
<use href="#t" x="117.1" y="475.6"/>
<use href="#t" x="145.8" y="441.0"/>
<use href="#t" x="130.3" y="462.6"/>
<use href="#t" x="115.5" y="476.5"/>
<use href="#t" x="112.8" y="478.8"/>
<use href="#t" x="116.9" y="475.6"/>
<use href="#t" x="132.6" y="458.5"/>
<use href="#t" x="108.3" y="482.3"/>
<use href="#t" x="133.8" y="457.1"/>
<use href="#t" x="119.1" y="473.1"/>
<use href="#t" x="138.9" y="452.6"/>
<use href="#t" x="110.1" y="480.9"/>
<use href="#t" x="122.2" y="470.6"/>
<use href="#t" x="132.1" y="458.7"/>
<use href="#t" x="113.6" y="478.4"/>
<use href="#t" x="122.8" y="469.6"/>
<use href="#t" x="118.9" y="474.2"/>
<use href="#t" x="119.1" y="473.6"/>
<use href="#t" x="120.8" y="471.8"/>
<use href="#t" x="142.0" y="451.3"/>
<use href="#t" x="121.0" y="471.2"/>
<use href="#t" x="135.9" y="454.5"/>
<use href="#t" x="108.1" y="482.5"/>
<use href="#t" x="123.3" y="470.1"/>
<use href="#t" x="122.7" y="470.8"/>
<use href="#t" x="124.8" y="467.2"/>
<use href="#t" x="108.4" y="482.2"/>
<use href="#t" x="132.2" y="461.6"/>
<use href="#t" x="111.0" y="480.4"/>
<use href="#t" x="121.3" y="471.5"/>
<use href="#t" x="113.0" y="478.7"/>
<use href="#t" x="127.2" y="466.6"/>
<use href="#t" x="111.6" y="479.8"/>
<use href="#t" x="139.3" y="454.2"/>
<use href="#t" x="114.8" y="477.0"/>
<use href="#t" x="145.7" y="447.0"/>
<use href="#t" x="125.7" y="466.0"/>
<use href="#t" x="144.9" y="444.3"/>
<use href="#t" x="143.9" y="447.1"/>
<use href="#t" x="140.2" y="448.9"/>
<use href="#t" x="138.5" y="451.5"/>
<use href="#t" x="122.6" y="470.8"/>
<use href="#t" x="140.4" y="448.7"/>
<use href="#t" x="115.6" y="476.5"/>
<use href="#t" x="127.1" y="465.4"/>
<use href="#t" x="112.2" y="479.3"/>
<use href="#t" x="135.8" y="457.7"/>
<use href="#t" x="109.3" y="481.6"/>
<use href="#t" x="137.2" y="452.0"/>
<use href="#t" x="140.8" y="447.8"/>
<use href="#t" x="130.5" y="462.2"/>
<use href="#t" x="131.6" y="460.1"/>
<use href="#t" x="123.2" y="469.8"/>
<use href="#t" x="123.4" y="469.7"/>
<use href="#t" x="124.3" y="468.4"/>
<use href="#t" x="108.7" y="482.0"/>
<use href="#t" x="126.0" y="466.2"/>
<use href="#t" x="137.5" y="455.4"/>
<use href="#t" x="124.7" y="467.4"/>
<use href="#t" x="125.3" y="466.6"/>
<use href="#t" x="112.3" y="479.2"/>
<use href="#t" x="111.1" y="480.3"/>
<use href="#t" x="126.8" y="464.7"/>
<use href="#t" x="132.0" y="458.8"/>
<use href="#t" x="136.2" y="456.8"/>
<use href="#t" x="126.8" y="464.7"/>
<use href="#t" x="126.5" y="465.9"/>
<use href="#t" x="146.0" y="440.9"/>
<use href="#t" x="141.7" y="451.7"/>
<use href="#t" x="136.1" y="457.0"/>
<use href="#t" x="114.7" y="477.7"/>
<use href="#t" x="126.0" y="467.8"/>
<use href="#t" x="144.4" y="443.4"/>
<use href="#t" x="138.6" y="454.8"/>
<use href="#t" x="110.1" y="480.9"/>
<use href="#t" x="137.2" y="452.8"/>
<use href="#t" x="143.5" y="445.3"/>
<use href="#t" x="139.8" y="449.3"/>
<use href="#t" x="126.5" y="467.3"/>
<use href="#t" x="115.2" y="476.7"/>
<use href="#t" x="126.6" y="465.7"/>
<use href="#t" x="109.2" y="481.7"/>
<use href="#t" x="113.5" y="478.6"/>
<use href="#t" x="133.8" y="459.8"/>
<use href="#t" x="113.8" y="478.3"/>
<use href="#t" x="111.9" y="479.7"/>
<use href="#t" x="132.0" y="459.9"/>
<use href="#t" x="142.4" y="448.4"/>
<use href="#t" x="129.6" y="464.1"/>
<use href="#t" x="111.5" y="480.1"/>
<use href="#t" x="131.7" y="460.3"/>
<use href="#t" x="139.0" y="451.0"/>
<use href="#t" x="147.9" y="441.7"/>
<use href="#t" x="120.9" y="472.2"/>
<use href="#t" x="124.1" y="468.0"/>
<use href="#t" x="136.6" y="452.9"/>
<use href="#t" x="140.0" y="449.7"/>
<use href="#t" x="132.1" y="461.9"/>
<use href="#t" x="129.9" y="463.2"/>
<use href="#t" x="119.1" y="472.8"/>
<use href="#t" x="109.0" y="481.7"/>
<use href="#t" x="131.1" y="461.1"/>
<use href="#t" x="126.9" y="466.8"/>
<use href="#t" x="112.5" y="479.1"/>
<use href="#t" x="132.7" y="457.7"/>
<use href="#t" x="108.0" y="482.5"/>
<use href="#t" x="111.6" y="479.8"/>
<use href="#t" x="115.8" y="476.5"/>
<use href="#t" x="130.0" y="461.6"/>
<use href="#t" x="131.5" y="460.9"/>
<use href="#t" x="112.6" y="479.3"/>
<use href="#t" x="116.5" y="475.5"/>
<use href="#t" x="111.2" y="480.2"/>
<use href="#t" x="142.3" y="449.8"/>
<use href="#t" x="122.5" y="469.9"/>
<use href="#t" x="108.3" y="482.3"/>
<use href="#t" x="128.9" y="463.3"/>
<use href="#t" x="132.4" y="459.7"/>
<use href="#t" x="145.4" y="445.9"/>
<use href="#t" x="116.7" y="476.0"/>
<use href="#t" x="109.4" y="481.5"/>
<use href="#t" x="122.6" y="469.6"/>
<use href="#t" x="109.9" y="481.2"/>
<use href="#t" x="108.3" y="482.3"/>
<use href="#t" x="145.6" y="441.6"/>
<use href="#t" x="114.9" y="477.3"/>
<use href="#t" x="126.7" y="466.5"/>
<use href="#t" x="139.7" y="449.6"/>
<use href="#t" x="118.9" y="473.4"/>
<use href="#t" x="109.6" y="481.5"/>
<use href="#t" x="138.4" y="454.1"/>
<use href="#t" x="108.1" y="482.5"/>
<use href="#t" x="136.7" y="454.9"/>
<use href="#t" x="136.5" y="455.0"/>
<use href="#t" x="115.8" y="476.0"/>
<use href="#t" x="116.1" y="475.8"/>
<use href="#t" x="119.9" y="473.1"/>
<use href="#t" x="134.5" y="458.9"/>
<use href="#t" x="135.2" y="455.7"/>
<use href="#t" x="128.6" y="463.9"/>
<use href="#t" x="138.6" y="452.9"/>
<use href="#t" x="117.3" y="475.3"/>
<use href="#t" x="146.7" y="440.6"/>
<use href="#t" x="142.7" y="444.6"/>
<use href="#t" x="117.1" y="475.0"/>
<use href="#t" x="136.6" y="457.0"/>
<use href="#t" x="136.7" y="454.2"/>
<use href="#t" x="80.1" y="602.0"/>
<use href="#t" x="82.6" y="627.3"/>
<use href="#t" x="83.3" y="640.5"/>
<use href="#t" x="83.9" y="641.5"/>
<use href="#t" x="84.5" y="648.1"/>
<use href="#t" x="82.6" y="652.5"/>
<use href="#t" x="85.8" y="656.3"/>
<use href="#t" x="87.2" y="665.0"/>
<use href="#t" x="87.9" y="667.0"/>
<use href="#t" x="83.3" y="672.8"/>
<use href="#t" x="87.7" y="675.9"/>
<use href="#t" x="87.7" y="679.1"/>
<use href="#t" x="87.7" y="686.0"/>
<use href="#t" x="87.5" y="685.9"/>
<use href="#t" x="92.3" y="692.9"/>
<use href="#t" x="88.1" y="695.6"/>
<use href="#t" x="195.2" y="646.1"/>
<use href="#t" x="179.6" y="662.7"/>
<use href="#t" x="196.9" y="669.6"/>
<use href="#t" x="167.6" y="682.9"/>
<use href="#t" x="163.3" y="685.5"/>
<use href="#t" x="160.4" y="690.6"/>
<use href="#t" x="164.0" y="693.1"/>
<use href="#t" x="168.6" y="694.2"/>
<use href="#t" x="169.5" y="695.0"/>
<use href="#t" x="173.7" y="697.7"/>
<use href="#t" x="156.3" y="696.7"/>
<use href="#t" x="156.3" y="703.4"/>
<use href="#t" x="160.4" y="703.9"/>
<use href="#t" x="169.6" y="703.4"/>
<use href="#t" x="161.5" y="707.4"/>
<use href="#t" x="300.9" y="576.6"/>
<use href="#t" x="292.9" y="642.4"/>
<use href="#t" x="90.1" y="693.9"/>
<use href="#t" x="105.0" y="746.5"/>
<use href="#t" x="94.7" y="721.4"/>
<use href="#t" x="94.0" y="721.7"/>
<use href="#t" x="98.4" y="733.6"/>
<use href="#t" x="93.4" y="718.1"/>
<use href="#t" x="99.2" y="734.9"/>
<use href="#t" x="96.0" y="722.1"/>
<use href="#t" x="105.9" y="747.2"/>
<use href="#t" x="111.0" y="753.6"/>
<use href="#t" x="108.3" y="749.4"/>
<use href="#t" x="109.8" y="752.4"/>
<use href="#t" x="101.7" y="737.6"/>
<use href="#t" x="113.3" y="755.3"/>
<use href="#t" x="93.5" y="715.9"/>
<use href="#t" x="93.4" y="716.8"/>
<use href="#t" x="111.5" y="753.9"/>
<use href="#t" x="101.2" y="739.7"/>
<use href="#t" x="91.1" y="709.0"/>
<use href="#t" x="111.5" y="754.1"/>
<use href="#t" x="89.5" y="701.9"/>
<use href="#t" x="109.8" y="751.6"/>
<use href="#t" x="109.6" y="751.2"/>
<use href="#t" x="90.6" y="705.5"/>
<use href="#t" x="94.6" y="722.4"/>
<use href="#t" x="94.7" y="716.7"/>
<use href="#t" x="110.1" y="751.9"/>
<use href="#t" x="92.2" y="703.9"/>
<use href="#t" x="102.5" y="740.6"/>
<use href="#t" x="113.7" y="755.8"/>
<use href="#t" x="103.6" y="743.8"/>
<use href="#t" x="101.1" y="737.0"/>
<use href="#t" x="88.8" y="689.0"/>
<use href="#t" x="90.6" y="702.1"/>
<use href="#t" x="113.1" y="755.3"/>
<use href="#t" x="99.2" y="735.2"/>
<use href="#t" x="101.7" y="740.2"/>
<use href="#t" x="96.8" y="723.8"/>
<use href="#t" x="90.4" y="690.6"/>
<use href="#t" x="91.1" y="696.9"/>
<use href="#t" x="114.8" y="756.7"/>
<use href="#t" x="92.1" y="714.6"/>
<use href="#t" x="114.6" y="756.6"/>
<use href="#t" x="97.9" y="731.9"/>
<use href="#t" x="106.8" y="748.3"/>
<use href="#t" x="101.7" y="740.7"/>
<use href="#t" x="104.3" y="745.5"/>
<use href="#t" x="103.5" y="741.9"/>
<use href="#t" x="93.3" y="713.7"/>
<use href="#t" x="109.7" y="752.0"/>
<use href="#t" x="110.9" y="753.4"/>
<use href="#t" x="93.4" y="717.4"/>
<use href="#t" x="94.8" y="717.9"/>
<use href="#t" x="100.2" y="735.3"/>
<use href="#t" x="89.9" y="687.3"/>
<use href="#t" x="90.0" y="686.0"/>
<use href="#t" x="106.1" y="746.6"/>
<use href="#t" x="89.7" y="695.3"/>
<use href="#t" x="100.8" y="739.1"/>
<use href="#t" x="105.2" y="745.6"/>
<use href="#t" x="96.9" y="729.0"/>
<use href="#t" x="92.3" y="711.1"/>
<use href="#t" x="101.6" y="738.3"/>
<use href="#t" x="107.9" y="750.2"/>
<use href="#t" x="94.1" y="719.5"/>
<use href="#t" x="107.4" y="748.9"/>
<use href="#t" x="91.9" y="708.4"/>
<use href="#t" x="109.0" y="751.1"/>
<use href="#t" x="90.0" y="691.4"/>
<use href="#t" x="106.6" y="747.5"/>
<use href="#t" x="93.3" y="717.5"/>
<use href="#t" x="107.9" y="749.1"/>
<use href="#t" x="104.7" y="744.4"/>
<use href="#t" x="97.1" y="724.5"/>
<use href="#t" x="102.2" y="738.9"/>
<use href="#t" x="88.6" y="692.6"/>
<use href="#t" x="110.0" y="752.7"/>
<use href="#t" x="110.0" y="752.1"/>
<use href="#t" x="88.5" y="693.1"/>
<use href="#t" x="92.7" y="709.9"/>
<use href="#t" x="106.4" y="748.0"/>
<use href="#t" x="109.8" y="751.7"/>
<use href="#t" x="100.5" y="733.8"/>
<use href="#t" x="100.2" y="737.6"/>
<use href="#t" x="93.4" y="714.2"/>
<use href="#t" x="94.7" y="718.8"/>
<use href="#t" x="108.4" y="750.5"/>
<use href="#t" x="100.1" y="737.0"/>
<use href="#t" x="89.6" y="693.2"/>
<use href="#t" x="95.9" y="726.0"/>
<use href="#t" x="130.0" y="739.9"/>
<use href="#t" x="143.8" y="727.0"/>
<use href="#t" x="146.5" y="722.2"/>
<use href="#t" x="150.7" y="716.6"/>
<use href="#t" x="139.8" y="728.5"/>
<use href="#t" x="125.7" y="746.4"/>
<use href="#t" x="118.0" y="753.9"/>
<use href="#t" x="146.9" y="721.7"/>
<use href="#t" x="139.2" y="727.6"/>
<use href="#t" x="130.1" y="740.8"/>
<use href="#t" x="138.8" y="729.4"/>
<use href="#t" x="141.4" y="730.1"/>
<use href="#t" x="120.9" y="751.3"/>
<use href="#t" x="146.7" y="718.5"/>
<use href="#t" x="132.9" y="739.8"/>
<use href="#t" x="116.1" y="755.8"/>
<use href="#t" x="120.1" y="752.2"/>
<use href="#t" x="155.8" y="707.7"/>
<use href="#t" x="118.1" y="753.9"/>
<use href="#t" x="135.1" y="736.1"/>
<use href="#t" x="133.8" y="737.2"/>
<use href="#t" x="149.4" y="716.4"/>
<use href="#t" x="129.5" y="743.2"/>
<use href="#t" x="121.9" y="750.4"/>
<use href="#t" x="128.8" y="743.4"/>
<use href="#t" x="118.8" y="753.6"/>
<use href="#t" x="127.3" y="742.6"/>
<use href="#t" x="124.2" y="747.4"/>
<use href="#t" x="115.3" y="756.4"/>
<use href="#t" x="129.9" y="741.9"/>
<use href="#t" x="127.2" y="743.6"/>
<use href="#t" x="122.4" y="750.0"/>
<use href="#t" x="155.7" y="707.9"/>
<use href="#t" x="122.2" y="750.3"/>
<use href="#t" x="128.8" y="741.4"/>
<use href="#t" x="119.1" y="753.2"/>
<use href="#t" x="148.4" y="719.1"/>
<use href="#t" x="132.0" y="739.0"/>
<use href="#t" x="122.4" y="750.3"/>
<use href="#t" x="127.2" y="744.7"/>
<use href="#t" x="148.9" y="720.4"/>
<use href="#t" x="131.9" y="737.7"/>
<use href="#t" x="135.5" y="731.9"/>
<use href="#t" x="149.7" y="713.9"/>
<use href="#t" x="150.6" y="711.3"/>
<use href="#t" x="128.1" y="742.3"/>
<use href="#t" x="130.2" y="739.4"/>
<use href="#t" x="115.0" y="756.7"/>
<use href="#t" x="124.5" y="746.8"/>
<use href="#t" x="125.2" y="746.5"/>
<use href="#t" x="130.3" y="741.3"/>
<use href="#t" x="140.6" y="726.6"/>
<use href="#t" x="155.1" y="713.2"/>
<use href="#t" x="116.7" y="755.3"/>
<use href="#t" x="153.7" y="714.0"/>
<use href="#t" x="119.4" y="752.9"/>
<use href="#t" x="139.4" y="725.1"/>
<use href="#t" x="115.3" y="756.5"/>
<use href="#t" x="140.5" y="725.8"/>
<use href="#t" x="118.1" y="753.6"/>
<use href="#t" x="122.7" y="749.7"/>
<use href="#t" x="127.0" y="743.4"/>
<use href="#t" x="153.6" y="714.2"/>
<use href="#t" x="120.4" y="752.1"/>
<use href="#t" x="138.2" y="732.8"/>
<use href="#t" x="141.1" y="730.2"/>
<use href="#t" x="147.2" y="722.6"/>
<use href="#t" x="121.4" y="750.9"/>
<use href="#t" x="134.7" y="736.7"/>
<use href="#t" x="130.7" y="741.8"/>
<use href="#t" x="135.8" y="732.5"/>
<use href="#t" x="122.7" y="748.6"/>
<use href="#t" x="133.0" y="734.8"/>
<use href="#t" x="131.9" y="736.9"/>
<use href="#t" x="132.9" y="737.5"/>
<use href="#t" x="135.1" y="736.9"/>
<use href="#t" x="115.1" y="756.6"/>
<use href="#t" x="131.9" y="739.1"/>
<use href="#t" x="140.9" y="730.0"/>
<use href="#t" x="128.1" y="743.0"/>
<use href="#t" x="157.0" y="698.1"/>
<use href="#t" x="139.6" y="730.2"/>
<use href="#t" x="115.8" y="756.0"/>
<use href="#t" x="141.8" y="729.7"/>
<use href="#t" x="126.3" y="746.6"/>
<use href="#t" x="133.8" y="736.4"/>
<use href="#t" x="153.3" y="703.3"/>
<use href="#t" x="143.6" y="725.1"/>
<use href="#t" x="126.7" y="746.0"/>
<use href="#t" x="127.7" y="743.6"/>
<use href="#t" x="134.4" y="737.2"/>
<use href="#t" x="121.9" y="750.0"/>
<use href="#t" x="130.0" y="741.3"/>
<use href="#t" x="149.3" y="713.6"/>
<use href="#t" x="149.3" y="715.0"/>
<use href="#t" x="133.5" y="735.6"/>
<use href="#t" x="133.6" y="739.0"/>
<use href="#t" x="140.4" y="730.3"/>
<use href="#t" x="126.4" y="744.7"/>
<use href="#t" x="125.1" y="746.9"/>
<use href="#t" x="139.5" y="731.4"/>
<use href="#t" x="116.2" y="755.8"/>
<use href="#t" x="152.6" y="712.4"/>
<use href="#t" x="116.5" y="755.4"/>
<use href="#t" x="115.1" y="756.6"/>
<use href="#t" x="154.6" y="710.5"/>
<use href="#t" x="140.6" y="730.1"/>
<use href="#t" x="154.0" y="711.5"/>
<use href="#t" x="138.6" y="731.3"/>
<use href="#t" x="142.5" y="726.2"/>
<use href="#t" x="141.7" y="723.6"/>
<use href="#t" x="141.0" y="726.9"/>
<use href="#t" x="145.9" y="716.1"/>
<use href="#t" x="120.9" y="750.5"/>
<use href="#t" x="146.5" y="724.1"/>
<use href="#t" x="140.5" y="726.9"/>
<use href="#t" x="149.1" y="719.8"/>
<use href="#t" x="136.1" y="732.0"/>
<use href="#t" x="125.3" y="746.3"/>
<use href="#t" x="125.9" y="745.6"/>
<use href="#t" x="139.8" y="732.0"/>
<use href="#t" x="116.6" y="755.3"/>
<use href="#t" x="116.1" y="755.6"/>
<use href="#t" x="148.4" y="718.4"/>
<use href="#t" x="154.5" y="708.4"/>
<use href="#t" x="115.3" y="756.4"/>
<use href="#t" x="137.4" y="734.6"/>
<use href="#t" x="158.2" y="703.7"/>
<use href="#t" x="129.6" y="739.8"/>
<use href="#t" x="139.9" y="726.2"/>
<use href="#t" x="119.8" y="751.7"/>
<use href="#t" x="115.0" y="756.7"/>
<use href="#t" x="118.8" y="753.6"/>
<use href="#t" x="117.7" y="754.5"/>
<use href="#t" x="119.1" y="752.5"/>
<use href="#t" x="143.6" y="721.2"/>
<use href="#t" x="144.4" y="719.5"/>
<use href="#t" x="116.5" y="755.5"/>
<use href="#t" x="143.3" y="727.3"/>
<use href="#t" x="144.2" y="718.5"/>
<line x1="358.00" y1="18.10" x2="676.80" y2="18.10" stroke="#e8eff0" stroke-width="1" />
<line x1="358.00" y1="56.80" x2="676.80" y2="56.80" stroke="#e8eff0" stroke-width="1" />
<line x1="358.00" y1="95.20" x2="676.80" y2="95.20" stroke="#e8eff0" stroke-width="1" />
<line x1="358.00" y1="133.40" x2="676.80" y2="133.40" stroke="#e8eff0" stroke-width="1" />
<line x1="358.00" y1="172.00" x2="676.80" y2="172.00" stroke="#e8eff0" stroke-width="1" />
<line x1="358.00" y1="210.50" x2="676.80" y2="210.50" stroke="#e8eff0" stroke-width="1" />
<line x1="433.40" y1="13.00" x2="433.40" y2="215.50" stroke="#c6b6bc" stroke-width="0.9" stroke-dasharray="0.9,1.2"/>
<line x1="358.00" y1="215.50" x2="676.80" y2="215.50" stroke="#666666" stroke-width="1.2" />
<line x1="377.50" y1="215.50" x2="377.50" y2="219.20" stroke="#666666" stroke-width="1" />
<text x="377.50" y="228.60" font-size="8.6" text-anchor="middle" fill="#1a1a1a" stroke="#1a1a1a" stroke-width="0.26" font-weight="normal" >.5</text>
<line x1="433.40" y1="215.50" x2="433.40" y2="219.20" stroke="#666666" stroke-width="1" />
<text x="433.40" y="228.60" font-size="8.6" text-anchor="middle" fill="#1a1a1a" stroke="#1a1a1a" stroke-width="0.26" font-weight="normal" >1</text>
<line x1="489.30" y1="215.50" x2="489.30" y2="219.20" stroke="#666666" stroke-width="1" />
<text x="489.30" y="228.60" font-size="8.6" text-anchor="middle" fill="#1a1a1a" stroke="#1a1a1a" stroke-width="0.26" font-weight="normal" >1.5</text>
<line x1="545.20" y1="215.50" x2="545.20" y2="219.20" stroke="#666666" stroke-width="1" />
<text x="545.20" y="228.60" font-size="8.6" text-anchor="middle" fill="#1a1a1a" stroke="#1a1a1a" stroke-width="0.26" font-weight="normal" >2</text>
<line x1="601.10" y1="215.50" x2="601.10" y2="219.20" stroke="#666666" stroke-width="1" />
<text x="601.10" y="228.60" font-size="8.6" text-anchor="middle" fill="#1a1a1a" stroke="#1a1a1a" stroke-width="0.26" font-weight="normal" >2.5</text>
<line x1="657.00" y1="215.50" x2="657.00" y2="219.20" stroke="#666666" stroke-width="1" />
<text x="657.00" y="228.60" font-size="8.6" text-anchor="middle" fill="#1a1a1a" stroke="#1a1a1a" stroke-width="0.26" font-weight="normal" >3</text>
<text x="517.40" y="236.20" font-size="8.6" text-anchor="middle" fill="#1a1a1a" stroke="#1a1a1a" stroke-width="0.26" font-weight="normal" >OR (IC95%)</text>
<line x1="513.20" y1="37.50" x2="671.60" y2="37.50" stroke="#b87272" stroke-width="1.1" />
<line x1="513.20" y1="35.50" x2="513.20" y2="39.50" stroke="#b87272" stroke-width="1.0" />
<line x1="671.60" y1="35.50" x2="671.60" y2="39.50" stroke="#b87272" stroke-width="1.0" />
<rect x="579.50" y="36.40" width="2.2" height="2.2" fill="#2a1414"/>
<text x="580.60" y="34.90" font-size="9.2" text-anchor="middle" fill="#30577b" stroke="#30577b" stroke-width="0.12" font-weight="normal" >MUFA%</text>
<line x1="473.10" y1="56.80" x2="614.40" y2="56.80" stroke="#b87272" stroke-width="1.1" />
<line x1="473.10" y1="54.80" x2="473.10" y2="58.80" stroke="#b87272" stroke-width="1.0" />
<line x1="614.40" y1="54.80" x2="614.40" y2="58.80" stroke="#b87272" stroke-width="1.0" />
<rect x="531.20" y="55.70" width="2.2" height="2.2" fill="#2a1414"/>
<text x="532.30" y="54.20" font-size="9.2" text-anchor="middle" fill="#30577b" stroke="#30577b" stroke-width="0.12" font-weight="normal" >GLUTAMINE</text>
<line x1="371.10" y1="76.00" x2="408.50" y2="76.00" stroke="#b87272" stroke-width="1.1" />
<line x1="371.10" y1="74.00" x2="371.10" y2="78.00" stroke="#b87272" stroke-width="1.0" />
<line x1="408.50" y1="74.00" x2="408.50" y2="78.00" stroke="#b87272" stroke-width="1.0" />
<rect x="386.20" y="74.90" width="2.2" height="2.2" fill="#2a1414"/>
<text x="387.30" y="73.40" font-size="9.2" text-anchor="middle" fill="#30577b" stroke="#30577b" stroke-width="0.12" font-weight="normal" >XL-HDL-CE</text>
<line x1="370.20" y1="95.00" x2="407.50" y2="95.00" stroke="#b87272" stroke-width="1.1" />
<line x1="370.20" y1="93.00" x2="370.20" y2="97.00" stroke="#b87272" stroke-width="1.0" />
<line x1="407.50" y1="93.00" x2="407.50" y2="97.00" stroke="#b87272" stroke-width="1.0" />
<rect x="384.90" y="93.90" width="2.2" height="2.2" fill="#2a1414"/>
<text x="386.00" y="92.40" font-size="9.2" text-anchor="middle" fill="#30577b" stroke="#30577b" stroke-width="0.12" font-weight="normal" >XL-HDL-C</text>
<line x1="369.20" y1="114.50" x2="406.60" y2="114.50" stroke="#b87272" stroke-width="1.1" />
<line x1="369.20" y1="112.50" x2="369.20" y2="116.50" stroke="#b87272" stroke-width="1.0" />
<line x1="406.60" y1="112.50" x2="406.60" y2="116.50" stroke="#b87272" stroke-width="1.0" />
<rect x="384.30" y="113.40" width="2.2" height="2.2" fill="#2a1414"/>
<text x="385.40" y="111.90" font-size="9.2" text-anchor="middle" fill="#30577b" stroke="#30577b" stroke-width="0.12" font-weight="normal" >XL-HDL-L</text>
<line x1="368.30" y1="133.40" x2="405.60" y2="133.40" stroke="#b87272" stroke-width="1.1" />
<line x1="368.30" y1="131.40" x2="368.30" y2="135.40" stroke="#b87272" stroke-width="1.0" />
<line x1="405.60" y1="131.40" x2="405.60" y2="135.40" stroke="#b87272" stroke-width="1.0" />
<rect x="383.30" y="132.30" width="2.2" height="2.2" fill="#2a1414"/>
<text x="384.40" y="130.80" font-size="9.2" text-anchor="middle" fill="#30577b" stroke="#30577b" stroke-width="0.12" font-weight="normal" >XL-HDL-PL</text>
<line x1="368.30" y1="152.70" x2="404.70" y2="152.70" stroke="#b87272" stroke-width="1.1" />
<line x1="368.30" y1="150.70" x2="368.30" y2="154.70" stroke="#b87272" stroke-width="1.0" />
<line x1="404.70" y1="150.70" x2="404.70" y2="154.70" stroke="#b87272" stroke-width="1.0" />
<rect x="383.30" y="151.60" width="2.2" height="2.2" fill="#2a1414"/>
<text x="384.40" y="150.10" font-size="9.2" text-anchor="middle" fill="#30577b" stroke="#30577b" stroke-width="0.12" font-weight="normal" >HDL size</text>
<line x1="368.00" y1="171.90" x2="403.40" y2="171.90" stroke="#b87272" stroke-width="1.1" />
<line x1="368.00" y1="169.90" x2="368.00" y2="173.90" stroke="#b87272" stroke-width="1.0" />
<line x1="403.40" y1="169.90" x2="403.40" y2="173.90" stroke="#b87272" stroke-width="1.0" />
<rect x="382.30" y="170.80" width="2.2" height="2.2" fill="#2a1414"/>
<text x="383.40" y="169.30" font-size="9.2" text-anchor="middle" fill="#30577b" stroke="#30577b" stroke-width="0.12" font-weight="normal" >PUFA%</text>
<line x1="363.30" y1="191.20" x2="395.40" y2="191.20" stroke="#b87272" stroke-width="1.1" />
<line x1="363.30" y1="189.20" x2="363.30" y2="193.20" stroke="#b87272" stroke-width="1.0" />
<line x1="395.40" y1="189.20" x2="395.40" y2="193.20" stroke="#b87272" stroke-width="1.0" />
<rect x="375.90" y="190.10" width="2.2" height="2.2" fill="#2a1414"/>
<text x="377.00" y="188.60" font-size="9.2" text-anchor="middle" fill="#30577b" stroke="#30577b" stroke-width="0.12" font-weight="normal" >PUFA/MUFA</text>
<line x1="385.40" y1="289.60" x2="385.40" y2="468.50" stroke="#c6b6bc" stroke-width="0.9" stroke-dasharray="0.9,1.2"/>
<line x1="361.30" y1="468.50" x2="677.50" y2="468.50" stroke="#666666" stroke-width="1.2" />
<line x1="385.20" y1="468.50" x2="385.20" y2="472.20" stroke="#666666" stroke-width="1" />
<text x="385.20" y="481.50" font-size="8.6" text-anchor="middle" fill="#1a1a1a" stroke="#1a1a1a" stroke-width="0.26" font-weight="normal" >1</text>
<line x1="457.10" y1="468.50" x2="457.10" y2="472.20" stroke="#666666" stroke-width="1" />
<text x="457.10" y="481.50" font-size="8.6" text-anchor="middle" fill="#1a1a1a" stroke="#1a1a1a" stroke-width="0.26" font-weight="normal" >2</text>
<line x1="529.00" y1="468.50" x2="529.00" y2="472.20" stroke="#666666" stroke-width="1" />
<text x="529.00" y="481.50" font-size="8.6" text-anchor="middle" fill="#1a1a1a" stroke="#1a1a1a" stroke-width="0.26" font-weight="normal" >3</text>
<line x1="600.90" y1="468.50" x2="600.90" y2="472.20" stroke="#666666" stroke-width="1" />
<text x="600.90" y="481.50" font-size="8.6" text-anchor="middle" fill="#1a1a1a" stroke="#1a1a1a" stroke-width="0.26" font-weight="normal" >4</text>
<line x1="672.80" y1="468.50" x2="672.80" y2="472.20" stroke="#666666" stroke-width="1" />
<text x="672.80" y="481.50" font-size="8.6" text-anchor="middle" fill="#1a1a1a" stroke="#1a1a1a" stroke-width="0.26" font-weight="normal" >5</text>
<text x="519.40" y="489.50" font-size="8.6" text-anchor="middle" fill="#1a1a1a" stroke="#1a1a1a" stroke-width="0.26" font-weight="normal" >OR (CI95%)</text>
<line x1="378.50" y1="293.30" x2="424.30" y2="293.30" stroke="#4a944a" stroke-width="1.0" />
<line x1="378.50" y1="291.00" x2="378.50" y2="295.60" stroke="#4a944a" stroke-width="1.0" />
<line x1="424.30" y1="291.00" x2="424.30" y2="295.60" stroke="#4a944a" stroke-width="1.0" />
<rect x="395.80" y="290.90" width="5.0" height="4.8" fill="#058a05"/>
<text x="398.30" y="289.60" font-size="9.2" text-anchor="middle" fill="#30577b" stroke="#30577b" stroke-width="0.12" font-weight="normal" >Total BCAA</text>
<line x1="368.00" y1="307.50" x2="433.60" y2="307.50" stroke="#d49c52" stroke-width="1.0" />
<line x1="368.00" y1="305.20" x2="368.00" y2="309.80" stroke="#d49c52" stroke-width="1.0" />
<line x1="433.60" y1="305.20" x2="433.60" y2="309.80" stroke="#d49c52" stroke-width="1.0" />
<rect x="391.80" y="305.10" width="5.0" height="4.8" fill="#e8890c"/>
<line x1="440.50" y1="321.80" x2="648.90" y2="321.80" stroke="#cf5858" stroke-width="1.0" />
<line x1="440.50" y1="319.50" x2="440.50" y2="324.10" stroke="#cf5858" stroke-width="1.0" />
<line x1="648.90" y1="319.50" x2="648.90" y2="324.10" stroke="#cf5858" stroke-width="1.0" />
<rect x="517.60" y="319.40" width="5.0" height="4.8" fill="#f20000"/>
<line x1="372.40" y1="340.80" x2="414.30" y2="340.80" stroke="#4a944a" stroke-width="1.0" />
<line x1="372.40" y1="338.50" x2="372.40" y2="343.10" stroke="#4a944a" stroke-width="1.0" />
<line x1="414.30" y1="338.50" x2="414.30" y2="343.10" stroke="#4a944a" stroke-width="1.0" />
<rect x="387.80" y="338.40" width="5.0" height="4.8" fill="#058a05"/>
<text x="390.30" y="337.10" font-size="9.2" text-anchor="middle" fill="#30577b" stroke="#30577b" stroke-width="0.12" font-weight="normal" >Valine</text>
<line x1="366.60" y1="355.00" x2="431.50" y2="355.00" stroke="#d49c52" stroke-width="1.0" />
<line x1="366.60" y1="352.70" x2="366.60" y2="357.30" stroke="#d49c52" stroke-width="1.0" />
<line x1="431.50" y1="352.70" x2="431.50" y2="357.30" stroke="#d49c52" stroke-width="1.0" />
<rect x="390.10" y="352.60" width="5.0" height="4.8" fill="#e8890c"/>
<line x1="438.20" y1="369.40" x2="638.50" y2="369.40" stroke="#cf5858" stroke-width="1.0" />
<line x1="438.20" y1="367.10" x2="438.20" y2="371.70" stroke="#cf5858" stroke-width="1.0" />
<line x1="638.50" y1="367.10" x2="638.50" y2="371.70" stroke="#cf5858" stroke-width="1.0" />
<rect x="512.40" y="367.00" width="5.0" height="4.8" fill="#f20000"/>
<line x1="380.20" y1="388.30" x2="426.20" y2="388.30" stroke="#4a944a" stroke-width="1.0" />
<line x1="380.20" y1="386.00" x2="380.20" y2="390.60" stroke="#4a944a" stroke-width="1.0" />
<line x1="426.20" y1="386.00" x2="426.20" y2="390.60" stroke="#4a944a" stroke-width="1.0" />
<rect x="397.60" y="385.90" width="5.0" height="4.8" fill="#058a05"/>
<text x="400.10" y="384.60" font-size="9.2" text-anchor="middle" fill="#30577b" stroke="#30577b" stroke-width="0.12" font-weight="normal" >Isoleucine</text>
<line x1="385.40" y1="402.20" x2="470.60" y2="402.20" stroke="#d49c52" stroke-width="1.0" />
<line x1="385.40" y1="399.90" x2="385.40" y2="404.50" stroke="#d49c52" stroke-width="1.0" />
<line x1="470.60" y1="399.90" x2="470.60" y2="404.50" stroke="#d49c52" stroke-width="1.0" />
<rect x="417.00" y="399.80" width="5.0" height="4.8" fill="#e8890c"/>
<line x1="438.30" y1="416.60" x2="631.00" y2="416.60" stroke="#cf5858" stroke-width="1.0" />
<line x1="438.30" y1="414.30" x2="438.30" y2="418.90" stroke="#cf5858" stroke-width="1.0" />
<line x1="631.00" y1="414.30" x2="631.00" y2="418.90" stroke="#cf5858" stroke-width="1.0" />
<rect x="510.10" y="414.20" width="5.0" height="4.8" fill="#f20000"/>
<line x1="399.00" y1="435.50" x2="465.90" y2="435.50" stroke="#4a944a" stroke-width="1.0" />
<line x1="399.00" y1="433.20" x2="399.00" y2="437.80" stroke="#4a944a" stroke-width="1.0" />
<line x1="465.90" y1="433.20" x2="465.90" y2="437.80" stroke="#4a944a" stroke-width="1.0" />
<rect x="424.80" y="433.10" width="5.0" height="4.8" fill="#058a05"/>
<text x="427.30" y="431.80" font-size="9.2" text-anchor="middle" fill="#30577b" stroke="#30577b" stroke-width="0.12" font-weight="normal" >Histidine</text>
<line x1="372.10" y1="449.50" x2="446.70" y2="449.50" stroke="#d49c52" stroke-width="1.0" />
<line x1="372.10" y1="447.20" x2="372.10" y2="451.80" stroke="#d49c52" stroke-width="1.0" />
<line x1="446.70" y1="447.20" x2="446.70" y2="451.80" stroke="#d49c52" stroke-width="1.0" />
<rect x="399.20" y="447.10" width="5.0" height="4.8" fill="#e8890c"/>
<line x1="421.00" y1="463.90" x2="578.90" y2="463.90" stroke="#cf5858" stroke-width="1.0" />
<line x1="421.00" y1="461.60" x2="421.00" y2="466.20" stroke="#cf5858" stroke-width="1.0" />
<line x1="578.90" y1="461.60" x2="578.90" y2="466.20" stroke="#cf5858" stroke-width="1.0" />
<rect x="479.70" y="461.50" width="5.0" height="4.8" fill="#f20000"/>
<rect x="414.8" y="502.40000000000003" width="4.4" height="4.4" fill="#058a05"/>
<text x="424.00" y="507.60" font-size="8.6" text-anchor="start" fill="#1a1a1a" stroke="#1a1a1a" stroke-width="0.26" font-weight="normal" >Late onset</text>
<rect x="477.1" y="502.40000000000003" width="4.4" height="4.4" fill="#e8890c"/>
<text x="486.30" y="507.60" font-size="8.6" text-anchor="start" fill="#1a1a1a" stroke="#1a1a1a" stroke-width="0.26" font-weight="normal" >Intermediate onset</text>
<rect x="571.1999999999999" y="502.40000000000003" width="4.4" height="4.4" fill="#f20000"/>
<text x="580.40" y="507.60" font-size="8.6" text-anchor="start" fill="#1a1a1a" stroke="#1a1a1a" stroke-width="0.26" font-weight="normal" >Early onset</text>
<line x1="359.40" y1="567.40" x2="677.80" y2="567.40" stroke="#e8eff0" stroke-width="1" />
<line x1="359.40" y1="602.20" x2="677.80" y2="602.20" stroke="#e8eff0" stroke-width="1" />
<line x1="359.40" y1="637.50" x2="677.80" y2="637.50" stroke="#e8eff0" stroke-width="1" />
<line x1="359.40" y1="673.50" x2="677.80" y2="673.50" stroke="#e8eff0" stroke-width="1" />
<line x1="359.40" y1="708.20" x2="677.80" y2="708.20" stroke="#e8eff0" stroke-width="1" />
<line x1="359.40" y1="743.70" x2="677.80" y2="743.70" stroke="#e8eff0" stroke-width="1" />
<line x1="393.60" y1="562.60" x2="393.60" y2="749.00" stroke="#c6b6bc" stroke-width="0.9" stroke-dasharray="0.9,1.2"/>
<line x1="359.40" y1="749.00" x2="677.80" y2="749.00" stroke="#666666" stroke-width="1.2" />
<line x1="364.50" y1="749.00" x2="364.50" y2="752.70" stroke="#666666" stroke-width="1" />
<text x="364.50" y="762.00" font-size="8.6" text-anchor="middle" fill="#1a1a1a" stroke="#1a1a1a" stroke-width="0.26" font-weight="normal" >0</text>
<line x1="423.20" y1="749.00" x2="423.20" y2="752.70" stroke="#666666" stroke-width="1" />
<text x="423.20" y="762.00" font-size="8.6" text-anchor="middle" fill="#1a1a1a" stroke="#1a1a1a" stroke-width="0.26" font-weight="normal" >2</text>
<line x1="481.90" y1="749.00" x2="481.90" y2="752.70" stroke="#666666" stroke-width="1" />
<text x="481.90" y="762.00" font-size="8.6" text-anchor="middle" fill="#1a1a1a" stroke="#1a1a1a" stroke-width="0.26" font-weight="normal" >4</text>
<line x1="540.60" y1="749.00" x2="540.60" y2="752.70" stroke="#666666" stroke-width="1" />
<text x="540.60" y="762.00" font-size="8.6" text-anchor="middle" fill="#1a1a1a" stroke="#1a1a1a" stroke-width="0.26" font-weight="normal" >6</text>
<line x1="599.30" y1="749.00" x2="599.30" y2="752.70" stroke="#666666" stroke-width="1" />
<text x="599.30" y="762.00" font-size="8.6" text-anchor="middle" fill="#1a1a1a" stroke="#1a1a1a" stroke-width="0.26" font-weight="normal" >8</text>
<line x1="658.00" y1="749.00" x2="658.00" y2="752.70" stroke="#666666" stroke-width="1" />
<text x="658.00" y="762.00" font-size="8.6" text-anchor="middle" fill="#1a1a1a" stroke="#1a1a1a" stroke-width="0.26" font-weight="normal" >10</text>
<text x="518.60" y="770.30" font-size="8.6" text-anchor="middle" fill="#1a1a1a" stroke="#1a1a1a" stroke-width="0.26" font-weight="normal" >OR (IC95%)</text>
<line x1="411.20" y1="581.50" x2="451.30" y2="581.50" stroke="#e08a1a" stroke-width="1.1" />
<line x1="411.20" y1="579.30" x2="411.20" y2="583.70" stroke="#e08a1a" stroke-width="1.1" />
<line x1="451.30" y1="579.30" x2="451.30" y2="583.70" stroke="#e08a1a" stroke-width="1.1" />
<circle cx="428.2" cy="581.5" r="1.4" fill="#e08a1a"/>
<text x="428.20" y="578.10" font-size="9.2" text-anchor="middle" fill="#30577b" stroke="#30577b" stroke-width="0.12" font-weight="normal" >MUFA%</text>
<line x1="439.30" y1="602.40" x2="673.20" y2="602.40" stroke="#d92a2a" stroke-width="1.1" />
<line x1="439.30" y1="600.20" x2="439.30" y2="604.60" stroke="#d92a2a" stroke-width="1.1" />
<line x1="673.20" y1="600.20" x2="673.20" y2="604.60" stroke="#d92a2a" stroke-width="1.1" />
<circle cx="516.2" cy="602.4" r="1.4" fill="#d92a2a"/>
<line x1="377.10" y1="652.00" x2="387.30" y2="652.00" stroke="#e08a1a" stroke-width="1.1" />
<line x1="377.10" y1="649.80" x2="377.10" y2="654.20" stroke="#e08a1a" stroke-width="1.1" />
<line x1="387.30" y1="649.80" x2="387.30" y2="654.20" stroke="#e08a1a" stroke-width="1.1" />
<circle cx="381.5" cy="652.0" r="1.4" fill="#e08a1a"/>
<text x="381.50" y="649.60" font-size="9.2" text-anchor="middle" fill="#30577b" stroke="#30577b" stroke-width="0.12" font-weight="normal" >PUFA%</text>
<line x1="368.40" y1="673.40" x2="380.50" y2="673.40" stroke="#d92a2a" stroke-width="1.1" />
<line x1="368.40" y1="671.20" x2="368.40" y2="675.60" stroke="#d92a2a" stroke-width="1.1" />
<line x1="380.50" y1="671.20" x2="380.50" y2="675.60" stroke="#d92a2a" stroke-width="1.1" />
<circle cx="373" cy="673.4" r="1.4" fill="#d92a2a"/>
<line x1="375.80" y1="722.30" x2="385.00" y2="722.30" stroke="#e08a1a" stroke-width="1.1" />
<line x1="375.80" y1="720.10" x2="375.80" y2="724.50" stroke="#e08a1a" stroke-width="1.1" />
<line x1="385.00" y1="720.10" x2="385.00" y2="724.50" stroke="#e08a1a" stroke-width="1.1" />
<circle cx="379.9" cy="722.3" r="1.4" fill="#e08a1a"/>
<text x="379.90" y="719.90" font-size="9.2" text-anchor="middle" fill="#30577b" stroke="#30577b" stroke-width="0.12" font-weight="normal" >PUFA/MUFA</text>
<line x1="367.20" y1="743.70" x2="377.80" y2="743.70" stroke="#d92a2a" stroke-width="1.1" />
<line x1="367.20" y1="741.50" x2="367.20" y2="745.90" stroke="#d92a2a" stroke-width="1.1" />
<line x1="377.80" y1="741.50" x2="377.80" y2="745.90" stroke="#d92a2a" stroke-width="1.1" />
<circle cx="370.7" cy="743.7" r="1.4" fill="#d92a2a"/>
<circle cx="464.5" cy="782" r="1.5" fill="#e08a1a"/>
<text x="470.00" y="785.00" font-size="8.6" text-anchor="start" fill="#1a1a1a" stroke="#1a1a1a" stroke-width="0.26" font-weight="normal" >Pre-eclampsia</text>
<circle cx="539.4" cy="782" r="1.5" fill="#d92a2a"/>
<text x="544.90" y="785.00" font-size="8.6" text-anchor="start" fill="#1a1a1a" stroke="#1a1a1a" stroke-width="0.26" font-weight="normal" >HELLP</text>
<text x="0" y="0" font-size="14.94" font-weight="bold" fill="#111" stroke="#111" stroke-width="0.5" transform="translate(18.91,230.15) scale(0.908,1)">A</text>
<text x="0" y="0" font-size="14.53" font-weight="bold" fill="#111" stroke="#111" stroke-width="0.5" transform="translate(328.32,229.85) scale(0.849,1)">B</text>
<text x="0" y="0" font-size="15.08" font-weight="bold" fill="#111" stroke="#111" stroke-width="0.5" transform="translate(10.54,522.65) scale(0.842,1)">C</text>
<text x="0" y="0" font-size="14.80" font-weight="bold" fill="#111" stroke="#111" stroke-width="0.5" transform="translate(344.04,520.15) scale(1.002,1)">D</text>
<text x="0" y="0" font-size="14.39" font-weight="bold" fill="#111" stroke="#111" stroke-width="0.5" transform="translate(25.25,788.95) scale(0.746,1)">E</text>
<text x="0" y="0" font-size="14.80" font-weight="bold" fill="#111" stroke="#111" stroke-width="0.5" transform="translate(344.25,789.55) scale(0.811,1)">F</text>
</g>
</g></svg></div></body></html>
